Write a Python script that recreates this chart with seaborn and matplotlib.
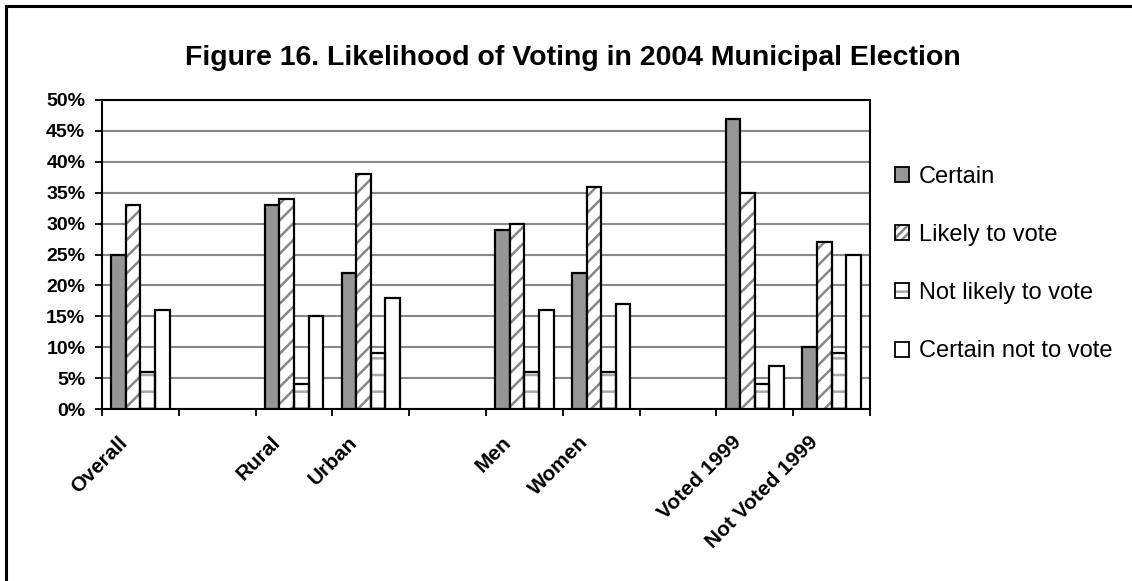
import matplotlib
matplotlib.use("Agg")
import matplotlib.pyplot as plt
from matplotlib.patches import Patch, Rectangle
from matplotlib.legend_handler import HandlerTuple
from matplotlib.transforms import ScaledTranslation
import seaborn as sns
import pandas as pd

# Survey results (% of respondents) by group
groups = ["Overall", "Rural", "Urban", "Men", "Women", "Voted 1999", "Not Voted 1999"]
responses = ["Certain", "Likely to vote", "Not likely to vote", "Certain not to vote"]
certain = [25, 33, 22, 29, 22, 47, 10]
likely = [33, 34, 38, 30, 36, 35, 27]
not_likely = [6, 4, 9, 6, 6, 4, 9]
certain_not = [16, 15, 18, 16, 17, 7, 25]

# Category slots on the x axis; whitespace entries leave empty gaps between blocks
slot_order = ["Overall", " ", "Rural", "Urban", "  ", "Men", "Women", "   ",
              "Voted 1999", "Not Voted 1999"]
y_ticks = list(range(0, 55, 5))
y_tick_labels = [f"{v}%" for v in y_ticks]

title = "Figure 16. Likelihood of Voting in 2004 Municipal Election"

sns.set_theme(style="white")
plt.rcParams["font.family"] = ["Liberation Sans", "DejaVu Sans"]
plt.rcParams["hatch.linewidth"] = 1.8
for key in ["text.color", "axes.labelcolor", "xtick.color", "ytick.color"]:
    plt.rcParams[key] = "black"

rows = []
for resp, vals in zip(responses, [certain, likely, not_likely, certain_not]):
    for g, v in zip(groups, vals):
        rows.append({"group": g, "response": resp, "value": v})
df = pd.DataFrame(rows)

fill_colors = {"Certain": "#969696", "Likely to vote": "white",
               "Not likely to vote": "white", "Certain not to vote": "white"}
hatches = {"Certain": "", "Likely to vote": "//",
           "Not likely to vote": "-", "Certain not to vote": ""}
hatch_colors = {"Likely to vote": "#888888", "Not likely to vote": "#a8a8a8"}

W, H, DPI = 1132, 581, 100
fig = plt.figure(figsize=(W / DPI, H / DPI), dpi=DPI)
fig.patch.set_facecolor("white")
ax = fig.add_axes([102 / W, 1 - 409 / H, (870 - 102) / W, (409 - 100) / H])

sns.barplot(data=df, x="group", y="value", hue="response",
            order=slot_order, hue_order=responses, palette=fill_colors,
            saturation=1, width=0.76, edgecolor="black", linewidth=1.6,
            legend=False, ax=ax, zorder=3)

# Hatched series: gray hatch under a black outline
for resp, container in zip(responses, ax.containers):
    if not hatches[resp]:
        continue
    for bar in container:
        bar.set_hatch(hatches[resp])
        bar.set_edgecolor(hatch_colors[resp])
        bar.set_linewidth(0)
        ax.add_patch(Rectangle((bar.get_x(), bar.get_y()), bar.get_width(),
                               bar.get_height(), fill=False, edgecolor="black",
                               linewidth=1.6, zorder=4))

ax.set_ylim(0, 50)
ax.set_xlim(-0.5, len(slot_order) - 0.5)
ax.set_yticks(y_ticks)
ax.set_yticklabels(y_tick_labels, fontsize=14, fontweight="bold")
ax.yaxis.grid(True, color="#888888", linewidth=1.5, zorder=0)
ax.set_axisbelow(True)
ax.tick_params(axis="y", direction="out", length=5, width=1.3, color="black",
               pad=7, left=True)

ax.set_xticks(range(len(slot_order)))
ax.set_xticklabels(slot_order, rotation=45, ha="right", va="top",
                   rotation_mode="anchor", fontsize=15, fontweight="bold")
ax.tick_params(axis="x", which="major", length=0, pad=17)
ax.set_xticks([i - 0.5 for i in range(len(slot_order) + 1)], minor=True)
ax.tick_params(axis="x", which="minor", direction="out", length=5, width=1.3,
               color="black", bottom=True)
shift = ScaledTranslation(-23 / DPI, 0, fig.dpi_scale_trans)
for lab in ax.get_xticklabels():
    lab.set_transform(lab.get_transform() + shift)

ax.set_xlabel("")
ax.set_ylabel("")
for side in ["left", "bottom", "top", "right"]:
    ax.spines[side].set_visible(True)
    ax.spines[side].set_color("black")
    ax.spines[side].set_linewidth(1.5)

fig.text(573 / W, 1 - 65 / H, title, ha="center", va="baseline",
         fontsize=20.5, fontweight="bold")

# Legend
h_certain = Patch(facecolor="#969696", edgecolor="black", linewidth=1.3)
h_likely = (Patch(facecolor="white", edgecolor=hatch_colors["Likely to vote"],
                  linewidth=0, hatch="////"),
            Patch(fill=False, edgecolor="black", linewidth=1.3))
h_notlikely = (Patch(facecolor="white", edgecolor=hatch_colors["Not likely to vote"],
                     linewidth=0, hatch="-"),
               Patch(fill=False, edgecolor="black", linewidth=1.3))
h_certain_not = Patch(facecolor="white", edgecolor="black", linewidth=1.3)
fig.legend([h_certain, h_likely, h_notlikely, h_certain_not], responses,
           handler_map={tuple: HandlerTuple(ndivide=1)},
           loc="upper left", bbox_to_anchor=(895 / W, 1 - 166 / H),
           frameon=False, fontsize=17, handlelength=0.6, handleheight=0.6,
           handletextpad=0.42, labelspacing=1.53, borderpad=0, borderaxespad=0)

# Outer frame (left and top edges visible)
fig.add_artist(Rectangle((6 / W, -0.1), 1.2, 1 - 6 / H + 0.1,
                         transform=fig.transFigure, fill=False,
                         edgecolor="black", linewidth=2.2))

fig.savefig("out.png", dpi=DPI)
